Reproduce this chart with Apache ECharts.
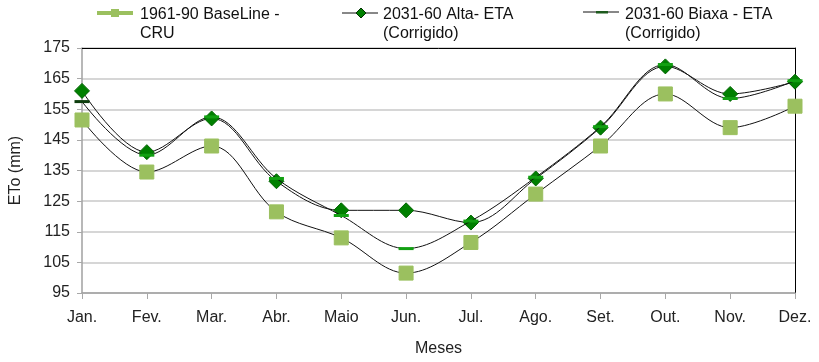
<!DOCTYPE html>
<html>
<head>
<meta charset="utf-8">
<script src="https://cdn.jsdelivr.net/npm/echarts@6/dist/echarts.min.js"></script>
<style>
  html, body { margin: 0; padding: 0; background: #fff; }
  #chart { width: 819px; height: 362px; }
</style>
</head>
<body>
<div id="chart"></div>
<script>
// Monthly reference evapotranspiration (mm)
const months = ['Jan.', 'Fev.', 'Mar.', 'Abr.', 'Maio', 'Jun.', 'Jul.', 'Ago.', 'Set.', 'Out.', 'Nov.', 'Dez.'];
const baseline = [151.5, 134.5, 143, 121.5, 113, 101.5, 111.5, 127.3, 143, 160, 149, 156];
const alta     = [161, 141, 152, 131.5, 122, 122, 118, 132.4, 149, 169, 160, 164];
const baixa    = [157.5, 140, 152.5, 132.4, 120.3, 109.5, 118.5, 132.8, 149.3, 169.6, 158.5, 164.3];

const seriesNames = ['1961-90 BaseLine -\nCRU', '2031-60 Alta- ETA\n(Corrigido)', '2031-60 Biaxa - ETA\n(Corrigido)'];

const font = 'Liberation Sans, Arial, sans-serif';
const chart = echarts.init(document.getElementById('chart'));

// legend drawn as graphic groups: swatch + two-line label
function legendText(x, text) {
  return { type: 'text', left: x, top: 5, style: { text: text, font: '16px ' + font, fill: '#111', lineHeight: 19 } };
}

chart.setOption({
  animation: false,
  grid: { left: 80, right: 24, top: 48, bottom: 66 },
  xAxis: [{
    type: 'category', data: months, boundaryGap: false,
    name: 'Meses', nameLocation: 'middle', nameGap: 48,
    nameTextStyle: { fontFamily: font, fontSize: 16, color: '#222' },
    axisLine: { lineStyle: { color: '#a0a0a0', width: 1.5 } },
    axisTick: { show: true, length: 6, lineStyle: { color: '#a8a8a8' } },
    axisLabel: { fontFamily: font, fontSize: 16, color: '#222', margin: 17 },
    splitLine: { show: false }
  }, {
    type: 'category', data: months, boundaryGap: false, position: 'top',
    axisLine: { lineStyle: { color: '#000', width: 1 } },
    axisTick: { show: false }, axisLabel: { show: false }
  }],
  yAxis: [{
    type: 'value', min: 95, max: 175, interval: 10,
    name: 'ETo (mm)', nameLocation: 'middle', nameGap: 58, nameRotate: 90,
    nameTextStyle: { fontFamily: font, fontSize: 16, color: '#222' },
    axisLine: { show: true, lineStyle: { color: '#a0a0a0', width: 1.5 } },
    axisTick: { show: true, length: 5, lineStyle: { color: '#a8a8a8' } },
    axisLabel: { fontFamily: font, fontSize: 16, color: '#222', margin: 12 },
    splitLine: { lineStyle: { color: '#c8c8c8', width: 1.5 } }
  }, {
    type: 'value', min: 95, max: 175, interval: 10, position: 'right',
    axisLine: { show: true, lineStyle: { color: '#000', width: 1 } },
    axisTick: { show: false }, axisLabel: { show: false }, splitLine: { show: false }
  }],
  series: [{
    name: seriesNames[0], type: 'line', data: baseline, smooth: 0.35,
    symbol: 'rect', symbolSize: 14,
    lineStyle: { color: '#111', width: 1 },
    itemStyle: { color: '#9bc05f', borderColor: '#9bc05f' },
    z: 2
  }, {
    name: seriesNames[1], type: 'line', data: alta, smooth: 0.35,
    symbol: 'diamond', symbolSize: 15,
    lineStyle: { color: '#111', width: 1 },
    itemStyle: { color: '#008000', borderColor: '#006400', borderWidth: 1 },
    z: 3
  }, {
    name: seriesNames[2], type: 'line', data: baixa.map((v, i) => i === 0
      ? { value: v, itemStyle: { color: '#0d3d0d' } } : v),
    smooth: 0.35,
    symbol: 'rect', symbolSize: [15, 3],
    lineStyle: { color: '#111', width: 1 },
    itemStyle: { color: '#12a012' },
    z: 4
  }],
  graphic: [
    { type: 'rect', shape: { x: 97, y: 11, width: 36, height: 4 }, style: { fill: '#9bc05f' } },
    { type: 'rect', shape: { x: 111, y: 9, width: 8, height: 8 }, style: { fill: '#9bc05f' } },
    legendText(140, seriesNames[0]),
    { type: 'line', shape: { x1: 342, y1: 13, x2: 378, y2: 13 }, style: { stroke: '#111', lineWidth: 1 } },
    { type: 'polygon', shape: { points: [[361, 8], [366, 13], [361, 18], [356, 13]] }, style: { fill: '#008000', stroke: '#003000', lineWidth: 1 } },
    legendText(383, seriesNames[1]),
    { type: 'line', shape: { x1: 583, y1: 12, x2: 619, y2: 12 }, style: { stroke: '#111', lineWidth: 1 } },
    { type: 'rect', shape: { x: 596, y: 11, width: 12, height: 2.5 }, style: { fill: '#1d5a1d' } },
    legendText(625, seriesNames[2])
  ]
});
</script>
</body>
</html>
